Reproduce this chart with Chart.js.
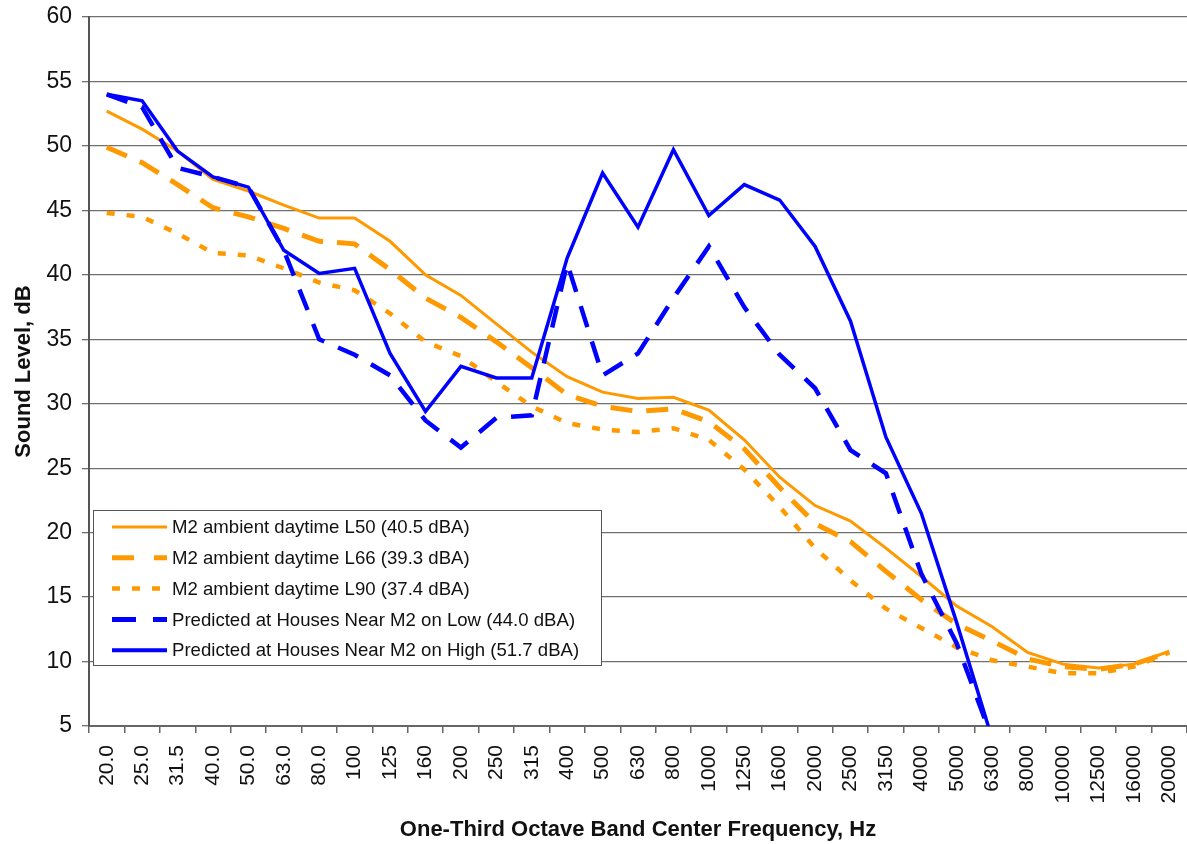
<!DOCTYPE html>
<html>
<head>
<meta charset="utf-8">
<script src="https://cdn.jsdelivr.net/npm/chart.js@4.4.1/dist/chart.umd.min.js"></script>
<style>
html,body{margin:0;padding:0;background:#fff;overflow:hidden;}
canvas{display:block;}
</style>
</head>
<body>
<canvas id="c" width="1187" height="844"></canvas>
<script>
// ---- data ----
const frequencies = ['20.0','25.0','31.5','40.0','50.0','63.0','80.0','100','125','160','200','250','315','400','500','630','800','1000','1250','1600','2000','2500','3150','4000','5000','6300','8000','10000','12500','16000','20000'];

const ambientL50 = [52.7,51.3,49.6,47.4,46.5,45.4,44.4,44.4,42.6,40.0,38.4,36.2,34.0,32.1,30.9,30.4,30.5,29.5,27.2,24.3,22.1,20.9,18.8,16.6,14.3,12.7,10.7,9.8,9.5,9.8,10.8];
const ambientL66 = [49.9,48.7,47.0,45.2,44.5,43.6,42.6,42.4,40.4,38.2,36.7,34.8,32.8,30.7,29.8,29.4,29.6,28.6,26.5,23.5,20.7,19.3,17.0,14.8,12.9,11.6,10.2,9.6,9.4,9.8,10.7];
const ambientL90 = [44.8,44.5,43.2,41.7,41.5,40.5,39.4,38.8,37.0,34.8,33.7,31.7,29.8,28.5,28.0,27.8,28.1,27.2,24.9,22.0,18.8,16.3,14.1,12.6,11.1,10.1,9.6,9.1,9.1,9.6,10.7];
const predictedLow = [54.0,53.0,48.3,47.6,46.8,41.9,35.0,33.8,32.2,28.7,26.6,28.9,29.1,40.9,32.2,33.9,38.2,42.2,37.5,33.8,31.2,26.4,24.6,16.8,11.4,4.0,null,null,null,null,null];
const predictedHigh = [54.0,53.5,49.6,47.6,46.8,41.9,40.1,40.5,33.9,29.4,32.9,32.0,32.0,41.3,47.9,43.7,49.7,44.6,47.0,45.8,42.2,36.4,27.4,21.5,13.0,4.0,null,null,null,null,null];

const seriesNames = [
  'M2 ambient daytime L50 (40.5 dBA)',
  'M2 ambient daytime L66 (39.3 dBA)',
  'M2 ambient daytime L90 (37.4 dBA)',
  'Predicted at Houses Near M2 on Low (44.0 dBA)',
  'Predicted at Houses Near M2 on High (51.7 dBA)'
];
const yTicks = {min: 5, max: 60, step: 5};

const ORANGE = '#ff9900';
const BLUE = '#0000ff';
const FONT = '"Liberation Sans", Arial, Helvetica, sans-serif';

// custom legend drawn inside the plot area
const insideLegend = {
  id: 'insideLegend',
  afterDatasetsDraw(chart) {
    const ctx = chart.ctx;
    const bx = 93.5, by = 510.5, bw = 508, bh = 155;
    ctx.save();
    ctx.fillStyle = '#ffffff';
    ctx.fillRect(bx, by, bw, bh);
    ctx.strokeStyle = '#555555';
    ctx.lineWidth = 1;
    ctx.strokeRect(bx, by, bw, bh);
    const samples = [
      {dash: [], w: 3},
      {dash: [22, 20], w: 5},
      {dash: [8, 12], w: 4.5},
      {dash: [24, 17], w: 5},
      {dash: [], w: 4}
    ];
    chart.data.datasets.forEach((ds, i) => {
      const y = 527 + i * 30.8;
      ctx.beginPath();
      ctx.setLineDash(samples[i].dash);
      ctx.lineWidth = samples[i].w;
      ctx.strokeStyle = ds.borderColor;
      ctx.moveTo(112, y);
      ctx.lineTo(167, y);
      ctx.stroke();
      ctx.setLineDash([]);
      ctx.fillStyle = '#111111';
      ctx.font = '18.6px ' + FONT;
      ctx.textBaseline = 'middle';
      ctx.textAlign = 'left';
      ctx.fillText(ds.label, 172, y + 1);
    });
    ctx.restore();
  }
};

new Chart(document.getElementById('c'), {
  type: 'line',
  data: {
    labels: frequencies,
    datasets: [
      {label: seriesNames[0], data: ambientL50, borderColor: ORANGE, borderWidth: 3, borderDash: [], order: 2},
      {label: seriesNames[1], data: ambientL66, borderColor: ORANGE, borderWidth: 5, borderDash: [22, 14], order: 3},
      {label: seriesNames[2], data: ambientL90, borderColor: ORANGE, borderWidth: 4.5, borderDash: [8, 12], order: 4},
      {label: seriesNames[3], data: predictedLow, borderColor: BLUE, borderWidth: 4.5, borderDash: [22, 15], order: 1},
      {label: seriesNames[4], data: predictedHigh, borderColor: BLUE, borderWidth: 3.5, borderDash: [], order: 0}
    ].map(d => Object.assign(d, {fill: false, tension: 0, pointRadius: 0, pointHoverRadius: 0, spanGaps: false, borderJoinStyle: 'miter', borderCapStyle: 'butt'}))
  },
  options: {
    responsive: false,
    devicePixelRatio: 1,
    animation: false,
    events: [],
    layout: {padding: {top: 17, right: 0, bottom: 0, left: 0}},
    plugins: {
      legend: {display: false},
      tooltip: {enabled: false},
      title: {display: false}
    },
    scales: {
      x: {
        type: 'category',
        offset: true,
        grid: {display: true, drawOnChartArea: false, drawTicks: true, tickLength: 7, offset: true, color: '#666666', lineWidth: 1.5},
        border: {display: true, color: '#666666', width: 2},
        ticks: {autoSkip: false, maxRotation: 90, minRotation: 90, padding: 12, color: '#111111', font: {family: FONT, size: 21}},
        title: {display: true, text: 'One-Third Octave Band Center Frequency, Hz', color: '#111111', font: {family: FONT, size: 22, weight: 'bold'}, padding: {top: 0, bottom: 1}},
        afterFit(scale) { scale.height = 118; scale.paddingLeft = 0; scale.paddingRight = 0; }
      },
      y: {
        min: yTicks.min,
        max: yTicks.max,
        grid: {display: true, drawOnChartArea: true, drawTicks: true, tickLength: 7, color: '#707070', lineWidth: 1.3},
        border: {display: true, color: '#555555', width: 2},
        ticks: {stepSize: yTicks.step, padding: 10, color: '#111111', font: {family: FONT, size: 23}},
        title: {display: true, text: 'Sound Level, dB', color: '#111111', font: {family: FONT, size: 22, weight: 'bold'}, padding: {top: 11, bottom: 0}},
        afterFit(scale) { scale.width = 89; scale.paddingTop = 0; scale.paddingBottom = 0; }
      }
    }
  },
  plugins: [insideLegend]
});
</script>
</body>
</html>
